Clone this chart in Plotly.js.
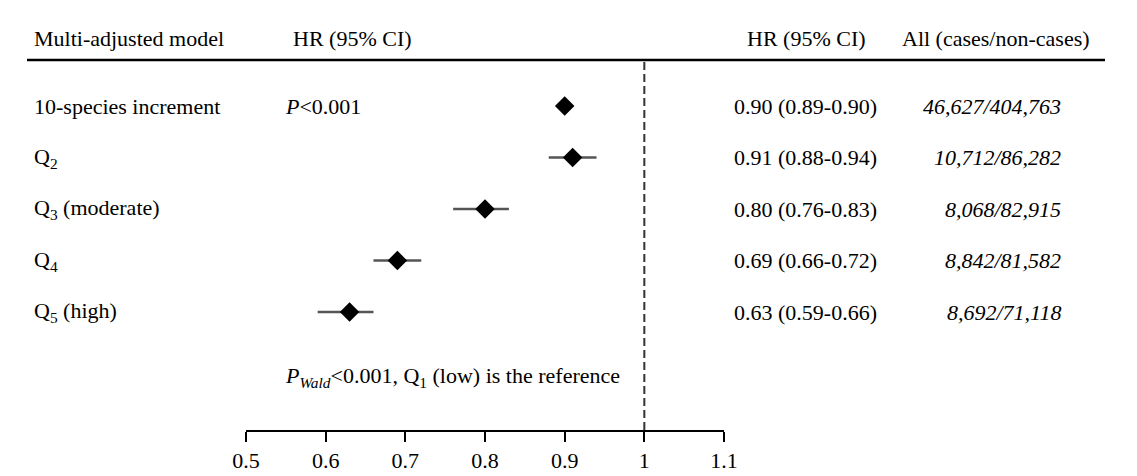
<!DOCTYPE html>
<html><head><meta charset="utf-8">
<script src="https://cdn.plot.ly/plotly-3.0.1.min.js"></script>
<style>html,body{margin:0;padding:0;background:#fff}</style>
</head><body><div id="chart" style="width:1137px;height:476px"></div>
<script>
var labels = ["10-species increment","Q<sub>2</sub>","Q<sub>3</sub> (moderate)","Q<sub>4</sub>","Q<sub>5</sub> (high)"];
var hr = [0.90, 0.91, 0.80, 0.69, 0.63];
var lower = [0.89, 0.88, 0.76, 0.66, 0.59];
var upper = [0.90, 0.94, 0.83, 0.72, 0.66];
var hrText = ["0.90 (0.89-0.90)","0.91 (0.88-0.94)","0.80 (0.76-0.83)","0.69 (0.66-0.72)","0.63 (0.59-0.66)"];
var cases = ["46,627/404,763","10,712/86,282","8,068/82,915","8,842/81,582","8,692/71,118"];
var xTicks = [0.5,0.6,0.7,0.8,0.9,1,1.1];
var xTickText = ["0.5","0.6","0.7","0.8","0.9","1","1.1"];

var FONT = "Liberation Serif, Times New Roman, serif";
var FS = 22;
var W = 1137, H = 476;
var rows = labels.map(function(_, i){ return i + 1; });

var ciX = [], ciY = [];
for (var i = 0; i < hr.length; i++) {
  ciX.push(lower[i], upper[i], null);
  ciY.push(rows[i], rows[i], null);
}
var traces = [
  {x: ciX, y: ciY, mode: 'lines', type: 'scatter', line: {color: '#555', width: 2.5}, hoverinfo: 'skip', showlegend: false},
  {x: hr, y: rows, mode: 'markers', type: 'scatter', marker: {symbol: 'diamond', size: 15, color: '#000'}, showlegend: false}
];

function px2py(p){ return (H - p) / H; }
function txt(t, x, y, xa, yref){
  return {text: t, x: x / W, xref: 'paper', y: y, yref: yref || 'y', xanchor: xa, yanchor: 'middle',
          showarrow: false, font: {family: FONT, size: FS, color: '#000'}};
}
var ann = [];
var hy = px2py(38);
ann.push(txt('Multi-adjusted model', 32, hy, 'left', 'paper'));
ann.push(txt('HR (95% CI)', 352, hy, 'center', 'paper'));
ann.push(txt('HR (95% CI)', 745, hy, 'left', 'paper'));
ann.push(txt('All (cases/non-cases)', 1092, hy, 'right', 'paper'));

for (var j = 0; j < labels.length; j++) {
  ann.push(txt(labels[j], 32, rows[j], 'left'));
  ann.push(txt(hrText[j], 732, rows[j], 'left'));
  ann.push(txt('<i>' + cases[j] + '</i>', 1063, rows[j], 'right'));
}
ann.push(txt('<i>P</i>&lt;0.001', 283, rows[0], 'left'));

var ROW1 = 106, STEP = 51.5;
function pxRow(p){ return 1 + (p - ROW1) / STEP; }
ann.push(txt('<i>P<sub>Wald</sub></i>&lt;0.001, Q<sub>1</sub> (low) is the reference', 452, pxRow(377), 'center'));

var shapes = [
  {type: 'line', xref: 'paper', yref: 'paper', x0: 27/W, x1: 1105/W, y0: px2py(60), y1: px2py(60), line: {color: '#000', width: 2.5}},
  {type: 'line', xref: 'x', yref: 'paper', x0: 1, x1: 1, y0: px2py(430), y1: px2py(62), line: {color: '#333', width: 2, dash: '8px,4px'}}
];

var layout = {
  width: W, height: H,
  margin: {l: 0, r: 0, t: 0, b: 0},
  paper_bgcolor: '#fff', plot_bgcolor: '#fff',
  showlegend: false,
  xaxis: {
    domain: [246/W, 724/W], range: [0.5, 1.1], tickvals: xTicks, ticktext: xTickText,
    showgrid: false, zeroline: false, showline: true, linecolor: '#000', linewidth: 2,
    ticks: 'outside', ticklen: 10, tickwidth: 2, tickcolor: '#000',
    tickfont: {family: FONT, size: FS, color: '#000'}, anchor: 'y', fixedrange: true
  },
  yaxis: {
    domain: [px2py(430), px2py(60)], range: [pxRow(430), pxRow(60)],
    showgrid: false, zeroline: false, showline: false, showticklabels: false, ticks: '', fixedrange: true
  },
  annotations: ann,
  shapes: shapes
};
Plotly.newPlot('chart', traces, layout, {displayModeBar: false, staticPlot: true});
</script></body></html>
